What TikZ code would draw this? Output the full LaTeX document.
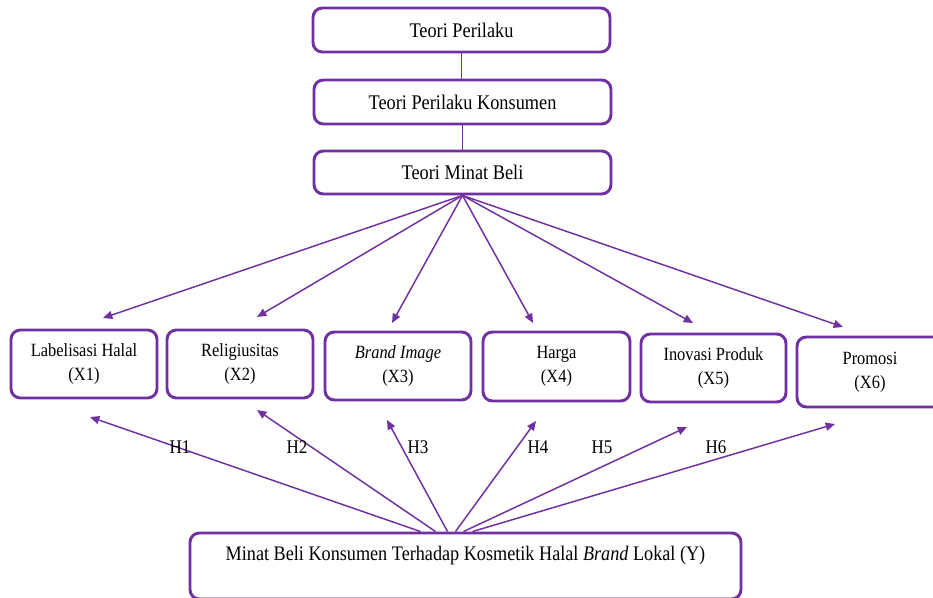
\documentclass[tikz,border=0pt]{standalone}
\usepackage{fontspec}
\setmainfont[FakeStretch=0.88]{Liberation Serif}
\usetikzlibrary{arrows.meta,calc}
\definecolor{vio}{HTML}{7030A0}
\begin{document}
\begin{tikzpicture}[x=0.75pt,y=-0.75pt,
  box/.style={draw=vio,line width=2.2pt,rounded corners=7pt,fill=white,inner sep=0pt,align=center,font=\fontsize{14}{18}\selectfont},
  bigtxt/.style={font=\fontsize{15.6}{18}\selectfont},
  bx/.style 2 args={minimum width=#1*0.75pt,minimum height=#2*0.75pt},
  txt/.style={inner sep=0pt,align=center,font=\fontsize{15.5}{18}\selectfont},
  arr/.style={draw=vio,line width=1.1pt,-{Triangle[length=7pt,width=6pt]}},
  lnk/.style={draw=vio,line width=1pt},
  hl/.style={inner sep=0pt,font=\fontsize{14.5}{18}\selectfont}]
\useasboundingbox (0,0) rectangle (933,598);
\clip (0,0) rectangle (933,598);
% top chain
\node[box,bigtxt,bx={297}{44}] (tp)  at (461.5,30)   {Teori Perilaku};
\node[box,bigtxt,bx={297}{44}] (tpk) at (462.5,102)  {Teori Perilaku Konsumen};
\node[box,bigtxt,bx={297}{43}] (tmb) at (462.5,172.5){Teori Minat Beli};
\draw[lnk] (tp.south) -- (tp.south |- tpk.north);
\draw[lnk] (tpk.south) -- (tpk.south |- tmb.north);
% variable boxes
\node[box,bx={146}{68}] (x1) at (84,364)    {Labelisasi Halal\\(X1)};
\node[box,bx={146}{68}] (x2) at (240,364)   {Religiusitas\\(X2)};
\node[box,bx={146}{68}] (x3) at (398,366)   {\textit{Brand Image}\\(X3)};
\node[box,bx={147}{69}] (x4) at (556.5,366.5){Harga\\(X4)};
\node[box,bx={145}{68}] (x5) at (713.5,368) {Inovasi Produk\\(X5)};
\node[box,bx={146}{70}] (x6) at (870,372)   {Promosi\\(X6)};
% dependent box
\node[box,bx={551}{66}] (yb) at (465.5,566) {};
\node[txt] (yt) at (465.5,556) {Minat Beli Konsumen Terhadap Kosmetik Halal \textit{Brand} Lokal (Y)};
% top arrow tips
\coordinate (t1) at (103,318);
\coordinate (t2) at (257,317);
\coordinate (t3) at (392,323);
\coordinate (t4) at (533,323);
\coordinate (t5) at (693,323);
\coordinate (t6) at (843,327);
\foreach \i in {1,...,6} \draw[arr] (tmb.south) -- (t\i);
% bottom arrows
\coordinate (b1) at ($(yb.north)+(-45,0)$);
\coordinate (b2) at ($(yb.north)+(-30,0)$);
\coordinate (b3) at ($(yb.north)+(-18,0)$);
\coordinate (b4) at ($(yb.north)+(-10,0)$);
\coordinate (b5) at ($(yb.north)+(-2,0)$);
\coordinate (b6) at ($(yb.north)+(7,0)$);
\coordinate (e1) at (90,417);
\coordinate (e2) at (257,410);
\coordinate (e3) at (387,420);
\coordinate (e4) at (536,421);
\coordinate (e5) at (687,427);
\coordinate (e6) at (835,424);
\foreach \i in {1,...,6} \draw[arr] (b\i) -- (e\i);
% hypothesis labels
\node[hl] (h1) at (180,447) {H1};
\node[hl] (h2) at (297,447) {H2};
\node[hl] (h3) at (418,447) {H3};
\node[hl] (h4) at (538,447) {H4};
\node[hl] (h5) at (602,447) {H5};
\node[hl] (h6) at (716,447) {H6};
\end{tikzpicture}
\end{document}
